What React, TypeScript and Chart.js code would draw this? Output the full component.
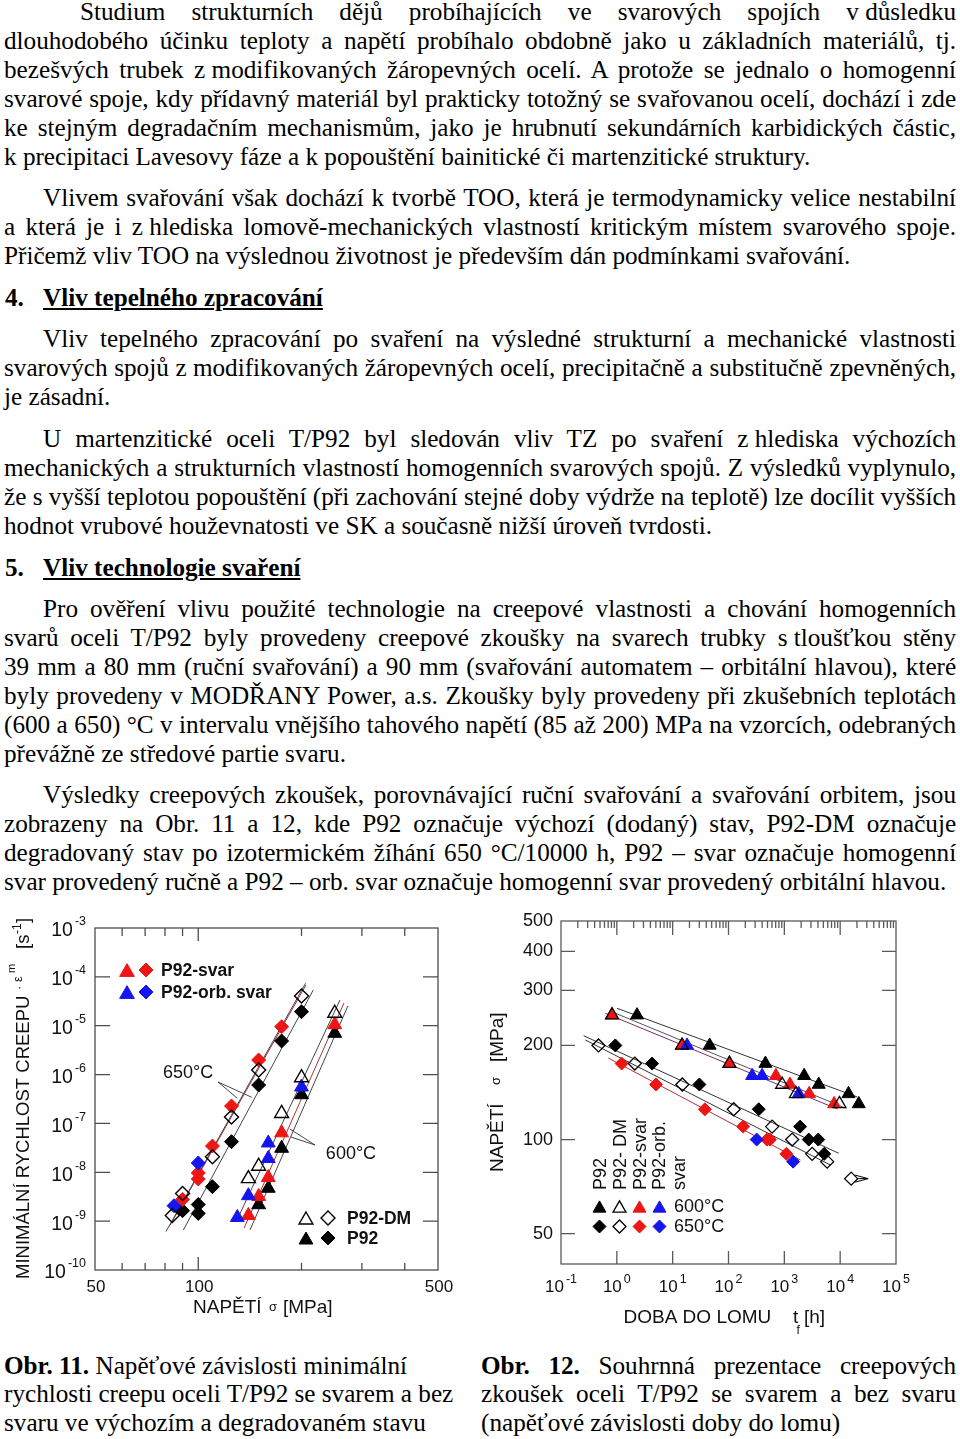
import React, { useEffect, useRef } from 'react';
import { Chart, registerables } from 'chart.js';

Chart.register(...registerables);

const SERIF = '"Liberation Serif", "Times New Roman", Times, serif';
const SANS = '"Liberation Sans", Arial, Helvetica, sans-serif';

// ================= Obr. 11 : stress [MPa] vs minimum creep rate [1/s] =================
const f11Stress650P92 = [200, 175, 150, 125, 110, 100, 100, 90];
const f11Rate650P92 = [1.94e-5, 4.87e-6, 6.12e-7, 4.23e-8, 5.07e-9, 2.19e-9, 1.44e-9, 1.64e-9];
const f11Stress650DM = [200, 150, 125, 110, 90, 84];
const f11Rate650DM = [4.06e-5, 1.24e-6, 1.35e-7, 2.08e-8, 3.68e-9, 1.31e-9];
const f11Stress650Svar = [175, 150, 125, 110, 100, 100, 90];
const f11Rate650Svar = [9.55e-6, 1.99e-6, 2.27e-7, 3.45e-8, 9.7e-9, 7.3e-9, 2.77e-9];
const f11Stress650Orb = [100, 85];
const f11Rate650Orb = [1.55e-8, 2.07e-9];
const f11Stress600P92 = [250, 200, 175, 160, 150];
const f11Rate600P92 = [7.0e-6, 3.87e-7, 3.1e-8, 4.71e-9, 2.17e-9];
const f11Stress600DM = [250, 200, 175, 150, 140];
const f11Rate600DM = [1.8e-5, 8.63e-7, 1.6e-7, 1.33e-8, 7.4e-9];
const f11Stress600Svar = [250, 175, 160, 150, 140];
const f11Rate600Svar = [1.05e-5, 6.43e-8, 7.83e-9, 3.2e-9, 1.31e-9];
const f11Stress600Orb = [200, 160, 160, 140, 130];
const f11Rate600Orb = [5.57e-7, 3.98e-8, 1.92e-8, 3.32e-9, 1.19e-9];

// regression lines (end points)
const f11Fit650DMStress = [80.5, 205.6];
const f11Fit650DMRate = [6.1e-10, 7.4e-5];
const f11Fit650SvarStress = [82.7, 206];
const f11Fit650SvarRate = [8.15e-10, 6.8e-5];
const f11Fit650P92Stress = [90.5, 216.5];
const f11Fit650P92Rate = [6.6e-10, 5.4e-5];
const f11Fit600DMStress = [128.9, 259];
const f11Fit600DMRate = [9.6e-10, 3.36e-5];
const f11Fit600SvarStress = [136, 266];
const f11Fit600SvarRate = [7.2e-10, 2.92e-5];
const f11Fit600P92Stress = [141.5, 273];
const f11Fit600P92Rate = [6.6e-10, 2.53e-5];

// call-out leader lines of the temperature labels
const f11Callout650Stress = [130, 114.2, 143.2];
const f11Callout650Rate = [3.27e-7, 7.05e-7, 3.43e-7];
const f11Callout600Stress = [185, 219, 186.4];
const f11Callout600Rate = [7.7e-8, 3.62e-8, 5.27e-8];

const f11XLabels = [50, 100, 500];
const f11XMinorTicks = [60, 70, 80, 90, 200, 300, 400];
const f11XMajorTicks = [100];
const f11YExponents = [-3, -4, -5, -6, -7, -8, -9, -10];
const f11Temps = ['650°C', '600°C'];
const f11LegendTop = ['P92-svar', 'P92-orb. svar'];
const f11LegendBottom = ['P92-DM', 'P92'];

// ================= Obr. 12 : time to rupture [h] vs stress [MPa] =================
const f12Time600P92 = [2.3, 46, 458, 2264, 4130, 14090, 21530];
const f12Stress600P92 = [250, 200, 175, 160, 150, 140, 130];
const f12Time600DM = [0.82, 14.7, 104, 914, 1614, 9710];
const f12Stress600DM = [250, 200, 175, 150, 140, 130];
const f12Time600Svar = [0.82, 14.7, 104, 707, 1259, 2782, 7800];
const f12Stress600Svar = [250, 200, 175, 160, 150, 140, 130];
const f12Time600Orb = [18.1, 265, 400, 1811];
const f12Stress600Orb = [200, 160, 160, 140];
const f12Time650P92 = [0.94, 4.28, 30.1, 348, 1919, 2737, 4053, 5188];
const f12Stress650P92 = [200, 175, 150, 125, 110, 100, 100, 90];
const f12Time650DM = [0.47, 2.1, 14.9, 124, 604, 1380, 3148, 5848, 15740];
const f12Stress650DM = [200, 175, 150, 125, 110, 100, 90, 85, 75];
const f12Time650Svar = [1.22, 5.04, 37.8, 183, 488, 552, 1091];
const f12Stress650Svar = [175, 150, 125, 110, 100, 100, 90];
const f12Time650Orb = [320, 1438];
const f12Stress650Orb = [100, 85];
const f12RunoutTime = [15740];
const f12RunoutStress = [75];

const f12Fit600P92Time = [1.01, 20180];
const f12Fit600P92Stress = [262.9, 136.9];
const f12Fit600DMTime = [0.83, 12450];
const f12Fit600DMStress = [255.9, 126.1];
const f12Fit600SvarTime = [0.622, 8954];
const f12Fit600SvarStress = [253.4, 125.2];
const f12Fit650P92Time = [0.254, 9441];
const f12Fit650P92Stress = [214.9, 90.4];
const f12Fit650DMTime = [0.2725, 6699];
const f12Fit650DMStress = [208.2, 82.9];
const f12Fit650SvarTime = [0.704, 1943];
const f12Fit650SvarStress = [182.3, 86.0];

const f12XExponents = [-1, 0, 1, 2, 3, 4, 5];
const f12YLabels = [500, 400, 300, 200, 100, 50];
const f12YTicks = [400, 300, 200, 100, 50];
const f12LegendColumns = ['P92', 'P92- DM', 'P92-svar', 'P92-orb.', 'svar'];
const f12LegendRows = ['600°C', '650°C'];

// ================= text =================
const para1 = [
  'Studium strukturních dějů probíhajících ve svarových spojích v\u00a0důsledku',
  'dlouhodobého účinku teploty a napětí probíhalo obdobně jako u základních materiálů, tj.',
  'bezešvých trubek z\u00a0modifikovaných žáropevných ocelí. A protože se jednalo o homogenní',
  'svarové spoje, kdy přídavný materiál byl prakticky totožný se svařovanou ocelí, dochází i zde',
  'ke stejným degradačním mechanismům, jako je hrubnutí sekundárních karbidických částic,',
  'k precipitaci Lavesovy fáze a k popouštění bainitické či martenzitické struktury.',
];
const para2 = [
  'Vlivem svařování však dochází k tvorbě TOO, která je termodynamicky velice nestabilní',
  'a která je i z\u00a0hlediska lomově-mechanických vlastností kritickým místem svarového spoje.',
  'Přičemž vliv TOO na výslednou životnost je především dán podmínkami svařování.',
];
const para3 = [
  'Vliv tepelného zpracování po svaření na výsledné strukturní a mechanické vlastnosti',
  'svarových spojů z\u00a0modifikovaných žáropevných ocelí, precipitačně a substitučně zpevněných,',
  'je zásadní.',
];
const para4 = [
  'U martenzitické oceli T/P92 byl sledován vliv TZ po svaření z\u00a0hlediska výchozích',
  'mechanických a strukturních vlastností homogenních svarových spojů. Z výsledků vyplynulo,',
  'že s\u00a0vyšší teplotou popouštění (při zachování stejné doby výdrže na teplotě) lze docílit vyšších',
  'hodnot vrubové houževnatosti ve SK a současně nižší úroveň tvrdosti.',
];
const para5 = [
  'Pro ověření vlivu použité technologie na creepové vlastnosti a chování homogenních',
  'svarů oceli T/P92 byly provedeny creepové zkoušky na svarech trubky s\u00a0tloušťkou stěny',
  '39 mm a 80 mm (ruční svařování) a 90 mm (svařování automatem – orbitální hlavou), které',
  'byly provedeny v MODŘANY Power, a.s. Zkoušky byly provedeny při zkušebních teplotách',
  '(600 a 650) °C v intervalu vnějšího tahového napětí (85 až 200) MPa na vzorcích, odebraných',
  'převážně ze středové partie svaru.',
];
const para6 = [
  'Výsledky creepových zkoušek, porovnávající ruční svařování a svařování orbitem, jsou',
  'zobrazeny na Obr. 11 a 12, kde P92 označuje výchozí (dodaný) stav, P92-DM označuje',
  'degradovaný stav po izotermickém žíhání 650 °C/10000 h, P92 – svar označuje homogenní',
  'svar provedený ručně a P92 – orb. svar označuje homogenní svar provedený orbitální hlavou.',
];

// ================= helpers =================
const RED = '#ee1515';
const BLUE = '#1515ee';
const BLACK = '#000000';
const NONE = 'rgba(0,0,0,0)';

function pts(xs: number[], ys: number[]) {
  return xs.map((x, i) => ({ x, y: ys[i] }));
}
function markerSet(xs: number[], ys: number[], shape: string, fill: string, stroke: string, r: number, bw: number) {
  return {
    data: pts(xs, ys),
    pointStyle: shape === 'tri' ? 'triangle' : 'rectRot',
    pointRadius: r,
    pointHoverRadius: r,
    pointBackgroundColor: fill,
    pointBorderColor: stroke,
    pointBorderWidth: bw,
    showLine: false,
  };
}
function lineSet(xs: number[], ys: number[], color: string, w = 1) {
  return {
    data: pts(xs, ys),
    showLine: true,
    borderColor: color,
    borderWidth: w,
    pointRadius: 0,
    pointHoverRadius: 0,
    fill: false,
    tension: 0,
  };
}
function drawMarker(ctx: any, shape: string, x: number, y: number, r: number, fill: string, stroke: string, lw: number) {
  ctx.beginPath();
  if (shape === 'tri') {
    const yy = y + r / 4;
    ctx.moveTo(x, yy - r);
    ctx.lineTo(x + r * 0.866, yy + r / 2);
    ctx.lineTo(x - r * 0.866, yy + r / 2);
  } else {
    ctx.moveTo(x - r, y);
    ctx.lineTo(x, y - r);
    ctx.lineTo(x + r, y);
    ctx.lineTo(x, y + r);
  }
  ctx.closePath();
  if (fill !== NONE) {
    ctx.fillStyle = fill;
    ctx.fill();
  }
  ctx.strokeStyle = stroke;
  ctx.lineWidth = lw;
  ctx.stroke();
}
function font(size: number, bold = false) {
  return `${bold ? 'bold ' : ''}${size}px ${SANS}`;
}

// ================= Obr. 11 decoration plugin =================
const fig11Deco = {
  id: 'fig11Deco',
  afterDatasetsDraw(chart: any) {
    const { ctx, chartArea: a } = chart;
    const sx = chart.scales.x;
    const sy = chart.scales.y;
    ctx.save();
    ctx.strokeStyle = '#4d4d4d';
    ctx.lineWidth = 1.3;
    ctx.strokeRect(a.left, a.top, a.right - a.left, a.bottom - a.top);
    ctx.beginPath();
    for (const v of f11XMinorTicks) {
      const px = sx.getPixelForValue(v);
      ctx.moveTo(px, a.bottom); ctx.lineTo(px, a.bottom - 7);
      ctx.moveTo(px, a.top); ctx.lineTo(px, a.top + 8);
    }
    for (const v of f11XMajorTicks) {
      const px = sx.getPixelForValue(v);
      ctx.moveTo(px, a.bottom); ctx.lineTo(px, a.bottom - 13);
      ctx.moveTo(px, a.top); ctx.lineTo(px, a.top + 13);
    }
    for (let i = 1; i < f11YExponents.length - 1; i++) {
      const py = sy.getPixelForValue(Math.pow(10, f11YExponents[i]));
      ctx.moveTo(a.left, py); ctx.lineTo(a.left + 15, py);
      ctx.moveTo(a.right, py); ctx.lineTo(a.right - 15, py);
    }
    ctx.stroke();
    ctx.restore();
  },
  afterDraw(chart: any) {
    const { ctx, chartArea: a } = chart;
    const sx = chart.scales.x;
    const sy = chart.scales.y;
    ctx.save();
    ctx.fillStyle = '#111';
    // x tick labels
    ctx.font = font(17);
    ctx.textAlign = 'center';
    ctx.textBaseline = 'middle';
    for (const v of f11XLabels) ctx.fillText(String(v), sx.getPixelForValue(v) + 1, a.bottom + 17);
    // y tick labels 10^e
    for (const e of f11YExponents) {
      const py = sy.getPixelForValue(Math.pow(10, e));
      ctx.textAlign = 'right';
      ctx.font = font(12.5);
      const es = String(e);
      ctx.fillText(es, 86, py - 6);
      const we = ctx.measureText(es).width;
      ctx.font = font(19.5);
      ctx.fillText('10', 86 - we - 2, py + 3);
    }
    // x title
    ctx.textAlign = 'left';
    ctx.textBaseline = 'alphabetic';
    ctx.font = font(19);
    ctx.fillText('NAPĚTÍ', 193, 408);
    ctx.font = font(13);
    ctx.fillText('σ', 269, 406);
    ctx.font = font(19);
    ctx.fillText('[MPa]', 283, 408);
    // y title (rotated)
    ctx.save();
    ctx.translate(28.5, 374);
    ctx.rotate(-Math.PI / 2);
    ctx.font = font(18.5);
    ctx.fillText('MINIMÁLNÍ RYCHLOST CREEPU', 0, 0);
    ctx.font = font(13);
    ctx.fillText('·', 289, -6);
    ctx.fillText('ε', 297, -7);
    ctx.font = font(11);
    ctx.fillText('m', 306, -14);
    ctx.font = font(18.5);
    ctx.fillText('[s', 330, 0);
    ctx.font = font(12);
    ctx.fillText('-1', 345, -8);
    ctx.font = font(18.5);
    ctx.fillText(']', 356, 0);
    ctx.restore();
    // temperature labels
    ctx.font = font(18);
    ctx.textAlign = 'center';
    ctx.textBaseline = 'middle';
    ctx.fillText(f11Temps[0], sx.getPixelForValue(93.4), sy.getPixelForValue(1.08e-6));
    ctx.fillText(f11Temps[1], sx.getPixelForValue(278.8), sy.getPixelForValue(2.37e-8));
    // legend top-left
    ctx.textAlign = 'left';
    ctx.font = font(17.5, true);
    drawMarker(ctx, 'tri', 127, 65, 8.5, RED, RED, 1);
    drawMarker(ctx, 'dia', 146, 65, 7, RED, RED, 1);
    ctx.fillStyle = '#111';
    ctx.fillText(f11LegendTop[0], 161, 66);
    drawMarker(ctx, 'tri', 127, 87, 8.5, BLUE, BLUE, 1);
    drawMarker(ctx, 'dia', 146, 87, 7, BLUE, BLUE, 1);
    ctx.fillStyle = '#111';
    ctx.fillText(f11LegendTop[1], 161, 88);
    // legend bottom-right
    drawMarker(ctx, 'tri', 306, 313, 8, NONE, BLACK, 1.4);
    drawMarker(ctx, 'dia', 328, 313, 7, NONE, BLACK, 1.4);
    ctx.fillStyle = '#111';
    ctx.fillText(f11LegendBottom[0], 347, 314);
    drawMarker(ctx, 'tri', 306, 333, 8, BLACK, BLACK, 1);
    drawMarker(ctx, 'dia', 328, 333, 7, BLACK, BLACK, 1);
    ctx.fillStyle = '#111';
    ctx.fillText(f11LegendBottom[1], 347, 334);
    ctx.restore();
  },
};

// ================= Obr. 12 decoration plugin =================
const fig12Deco = {
  id: 'fig12Deco',
  afterDatasetsDraw(chart: any) {
    const { ctx, chartArea: a } = chart;
    const sx = chart.scales.x;
    const sy = chart.scales.y;
    ctx.save();
    ctx.strokeStyle = '#5a5a5a';
    ctx.lineWidth = 1.3;
    ctx.strokeRect(a.left, a.top, a.right - a.left, a.bottom - a.top);
    ctx.beginPath();
    for (let e = -1; e <= 4; e++) {
      const base = Math.pow(10, e);
      if (e >= 0) {
        const px = sx.getPixelForValue(base);
        ctx.moveTo(px, a.bottom); ctx.lineTo(px, a.bottom - 13);
        ctx.moveTo(px, a.top); ctx.lineTo(px, a.top + 14);
      }
      for (let k = 2; k <= 9; k++) {
        const px = sx.getPixelForValue(k * base);
        ctx.moveTo(px, a.top); ctx.lineTo(px, a.top + 7);
      }
    }
    for (const v of f12YTicks) {
      const py = sy.getPixelForValue(v);
      ctx.moveTo(a.left, py); ctx.lineTo(a.left + 14, py);
      ctx.moveTo(a.right, py); ctx.lineTo(a.right - 14, py);
    }
    ctx.stroke();
    // run-out arrow
    ctx.strokeStyle = '#000';
    ctx.lineWidth = 1;
    ctx.beginPath();
    const rx = sx.getPixelForValue(f12RunoutTime[0]);
    const ry = sy.getPixelForValue(f12RunoutStress[0]);
    ctx.moveTo(rx + 4, ry - 3.5); ctx.lineTo(rx + 17, ry); ctx.lineTo(rx + 4, ry + 3.5);
    ctx.moveTo(rx + 7, ry); ctx.lineTo(rx + 17, ry);
    ctx.stroke();
    ctx.restore();
  },
  afterDraw(chart: any) {
    const { ctx, chartArea: a } = chart;
    const sx = chart.scales.x;
    const sy = chart.scales.y;
    ctx.save();
    ctx.fillStyle = '#111';
    // x tick labels 10^e
    ctx.textBaseline = 'middle';
    ctx.textAlign = 'left';
    for (const e of f12XExponents) {
      const px = sx.getPixelForValue(Math.pow(10, e));
      ctx.font = font(17);
      const w10 = ctx.measureText('10').width;
      ctx.font = font(12.5);
      const es = String(e);
      const we = ctx.measureText(es).width;
      const start = px - (w10 + 2 + we) / 2;
      ctx.font = font(17);
      ctx.fillText('10', start, a.bottom + 23.5);
      ctx.font = font(12.5);
      ctx.fillText(es, start + w10 + 2, a.bottom + 16);
    }
    // y tick labels
    ctx.font = font(18);
    ctx.textAlign = 'right';
    for (const v of f12YLabels) ctx.fillText(String(v), 78, sy.getPixelForValue(v));
    // x title
    ctx.textAlign = 'left';
    ctx.textBaseline = 'alphabetic';
    ctx.font = font(19);
    ctx.fillText('DOBA DO LOMU', 148.5, 423);
    ctx.fillText('t', 318, 423);
    ctx.font = font(12);
    ctx.fillText('f', 321.5, 434);
    ctx.font = font(19);
    ctx.fillText('[h]', 329, 423);
    // y title
    ctx.save();
    ctx.translate(27.5, 272);
    ctx.rotate(-Math.PI / 2);
    ctx.font = font(19);
    ctx.fillText('NAPĚTÍ', 0, 0);
    ctx.font = font(13);
    ctx.fillText('σ', 87, -3);
    ctx.font = font(19);
    ctx.fillText('[MPa]', 110, 0);
    ctx.restore();
    // legend column headers (rotated)
    ctx.font = font(18);
    const colX = [131, 151, 171, 190, 210];
    f12LegendColumns.forEach((t, i) => {
      ctx.save();
      ctx.translate(colX[i], 290);
      ctx.rotate(-Math.PI / 2);
      ctx.fillText(t, 0, 0);
      ctx.restore();
    });
    const mx = [124.5, 144.5, 164.5, 184.5];
    const triFill = [BLACK, NONE, RED, BLUE];
    const triStroke = [BLACK, BLACK, RED, BLUE];
    for (let i = 0; i < 4; i++) {
      drawMarker(ctx, 'tri', mx[i], 306.5, 7.5, triFill[i], triStroke[i], triFill[i] === NONE ? 1.3 : 1);
      drawMarker(ctx, 'dia', mx[i], 326.5, 6.5, triFill[i], triStroke[i], triFill[i] === NONE ? 1.3 : 1);
    }
    ctx.fillStyle = '#111';
    ctx.font = font(18);
    ctx.textBaseline = 'middle';
    ctx.fillText(f12LegendRows[0], 199, 307);
    ctx.fillText(f12LegendRows[1], 199, 327);
    ctx.restore();
  },
};

function fig11Config() {
  const T = 8, D = 7;
  return {
    type: 'scatter',
    data: {
      datasets: [
        markerSet(f11Stress650DM, f11Rate650DM, 'dia', NONE, BLACK, D, 1.4),
        markerSet(f11Stress600DM, f11Rate600DM, 'tri', NONE, BLACK, T, 1.4),
        markerSet(f11Stress650Orb, f11Rate650Orb, 'dia', BLUE, BLUE, D, 1),
        markerSet(f11Stress600Orb, f11Rate600Orb, 'tri', BLUE, BLUE, T, 1),
        markerSet(f11Stress650Svar, f11Rate650Svar, 'dia', RED, RED, D, 1),
        markerSet(f11Stress600Svar, f11Rate600Svar, 'tri', RED, RED, T, 1),
        markerSet(f11Stress650P92, f11Rate650P92, 'dia', BLACK, BLACK, D, 1),
        markerSet(f11Stress600P92, f11Rate600P92, 'tri', BLACK, BLACK, T, 1),
        lineSet(f11Fit650DMStress, f11Fit650DMRate, '#444', 1),
        lineSet(f11Fit650SvarStress, f11Fit650SvarRate, '#a33', 1),
        lineSet(f11Fit650P92Stress, f11Fit650P92Rate, '#444', 1),
        lineSet(f11Fit600DMStress, f11Fit600DMRate, '#444', 1),
        lineSet(f11Fit600SvarStress, f11Fit600SvarRate, '#a33', 1),
        lineSet(f11Fit600P92Stress, f11Fit600P92Rate, '#444', 1),
        lineSet(f11Callout650Stress, f11Callout650Rate, '#333', 0.9),
        lineSet(f11Callout600Stress, f11Callout600Rate, '#333', 0.9),
      ],
    },
    options: {
      animation: false,
      responsive: false,
      maintainAspectRatio: false,
      events: [],
      layout: { padding: { left: 95, top: 23, right: 37, bottom: 70 } },
      scales: {
        x: { type: 'logarithmic', min: 50, max: 500, display: false },
        y: { type: 'logarithmic', min: 1e-10, max: 1e-3, display: false },
      },
      plugins: { legend: { display: false }, tooltip: { enabled: false } },
    },
    plugins: [fig11Deco],
  };
}

function fig12Config() {
  const T = 7.5, D = 6.5;
  return {
    type: 'scatter',
    data: {
      datasets: [
        markerSet(f12Time600DM, f12Stress600DM, 'tri', NONE, BLACK, T, 1.3),
        markerSet(f12Time650DM, f12Stress650DM, 'dia', NONE, BLACK, D, 1.3),
        markerSet(f12Time600Orb, f12Stress600Orb, 'tri', BLUE, BLUE, T, 1),
        markerSet(f12Time650Orb, f12Stress650Orb, 'dia', BLUE, BLUE, D, 1),
        markerSet(f12Time600Svar, f12Stress600Svar, 'tri', RED, RED, T, 1),
        markerSet(f12Time650Svar, f12Stress650Svar, 'dia', RED, RED, D, 1),
        markerSet(f12Time600P92, f12Stress600P92, 'tri', BLACK, BLACK, T, 1),
        markerSet(f12Time650P92, f12Stress650P92, 'dia', BLACK, BLACK, D, 1),
        lineSet(f12Fit600P92Time, f12Fit600P92Stress, '#333', 1),
        lineSet(f12Fit600DMTime, f12Fit600DMStress, '#555', 1),
        lineSet(f12Fit600SvarTime, f12Fit600SvarStress, '#7a3060', 1),
        lineSet(f12Fit650P92Time, f12Fit650P92Stress, '#333', 1),
        lineSet(f12Fit650DMTime, f12Fit650DMStress, '#333', 1),
        lineSet(f12Fit650SvarTime, f12Fit650SvarStress, '#a33', 1),
      ],
    },
    options: {
      animation: false,
      responsive: false,
      maintainAspectRatio: false,
      events: [],
      layout: { padding: { left: 86, top: 21, right: 64, bottom: 76 } },
      scales: {
        x: { type: 'logarithmic', min: 0.1, max: 100000, display: false },
        y: { type: 'logarithmic', min: 40, max: 500, display: false },
      },
      plugins: { legend: { display: false }, tooltip: { enabled: false } },
    },
    plugins: [fig12Deco],
  };
}

function ChartCanvas({ make, left, top, width, height }: any) {
  const ref = useRef<HTMLCanvasElement>(null);
  useEffect(() => {
    const chart = new Chart(ref.current as any, make() as any);
    return () => chart.destroy();
  }, []);
  return (
    <canvas
      ref={ref}
      width={width}
      height={height}
      style={{ position: 'absolute', left, top, width, height }}
    />
  );
}

function TextLine({ text, justify, indent }: any) {
  const parts = text.split(' ');
  return (
    <div
      style={{
        height: 29,
        lineHeight: '29px',
        paddingLeft: indent || 0,
        textAlign: justify ? 'justify' : 'left',
        textAlignLast: justify ? 'justify' : 'left',
        wordSpacing: justify ? '-1px' : 'normal',
        whiteSpace: justify ? 'normal' : 'nowrap',
      }}
    >
      {parts.map((p: string, i: number) => (
        <React.Fragment key={i}>
          {i > 0 ? ' ' : null}
          {p.indexOf('\u00a0') >= 0 ? (
            <span style={{ display: 'inline-block', wordSpacing: 0 }}>{p}</span>
          ) : (
            p
          )}
        </React.Fragment>
      ))}
    </div>
  );
}

function Para({ lines, top, indent = 39 }: any) {
  return (
    <div style={{ position: 'absolute', left: 4, top, width: 952 }}>
      {lines.map((t: string, i: number) => (
        <TextLine key={i} text={t} justify={i < lines.length - 1} indent={i === 0 ? indent : 0} />
      ))}
    </div>
  );
}

function Heading({ num, text, top }: any) {
  const base: any = { position: 'absolute', top, height: 29, lineHeight: '29px', fontWeight: 'bold', whiteSpace: 'nowrap' };
  return (
    <>
      <div style={{ ...base, left: 5 }}>{num}</div>
      <div style={{ ...base, left: 43, textDecoration: 'underline' }}>{text}</div>
    </>
  );
}

export default function App() {
  const capLine: any = { height: 28.5, lineHeight: '28.5px' };
  return (
    <div
      style={{
        position: 'absolute',
        left: 0,
        top: 0,
        width: 960,
        height: 1439,
        overflow: 'hidden',
        background: '#fff',
        color: '#000',
        fontFamily: SERIF,
        fontSize: '25.2px',
      }}
    >
      <Para lines={para1} top={-3.5} indent={76} />
      <Para lines={para2} top={182.5} />
      <Heading num="4." text="Vliv tepelného zpracování" top={282.5} />
      <Para lines={para3} top={323.5} />
      <Para lines={para4} top={423.5} />
      <Heading num="5." text="Vliv technologie svaření" top={552.5} />
      <Para lines={para5} top={593.5} />
      <Para lines={para6} top={779.5} />

      <ChartCanvas make={fig11Config} left={0} top={905} width={475} height={435} />
      <ChartCanvas make={fig12Config} left={475} top={900} width={485} height={440} />

      <div style={{ position: 'absolute', left: 4, top: 1351.5, width: 470 }}>
        <div style={{ ...capLine, whiteSpace: 'nowrap' }}>
          <b>Obr. 11.</b> Napěťové závislosti minimální
        </div>
        <div style={{ ...capLine, whiteSpace: 'nowrap' }}>rychlosti creepu oceli T/P92 se svarem a bez</div>
        <div style={{ ...capLine, whiteSpace: 'nowrap' }}>svaru ve výchozím a degradovaném stavu</div>
      </div>
      <div style={{ position: 'absolute', left: 481, top: 1351.5, width: 475 }}>
        <div style={{ ...capLine, textAlign: 'justify', textAlignLast: 'justify' }}>
          <b>Obr.</b> <b>12.</b> Souhrnná prezentace creepových
        </div>
        <div style={{ ...capLine, textAlign: 'justify', textAlignLast: 'justify' }}>
          zkoušek oceli T/P92 se svarem a bez svaru
        </div>
        <div style={{ ...capLine, whiteSpace: 'nowrap' }}>(napěťové závislosti doby do lomu)</div>
      </div>
    </div>
  );
}
